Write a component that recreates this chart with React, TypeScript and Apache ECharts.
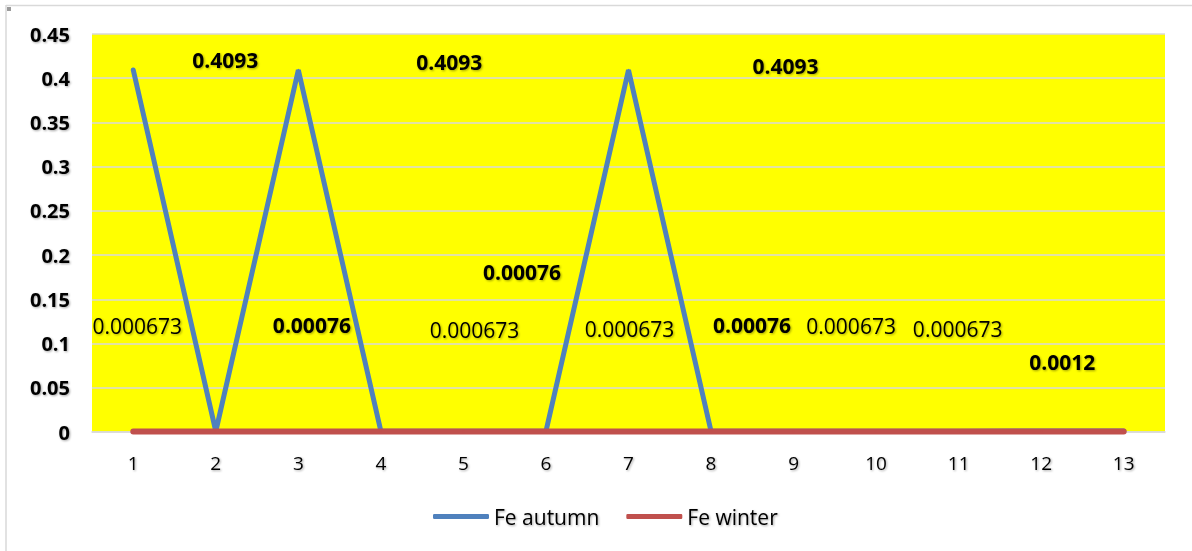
import React, { useEffect, useRef } from "react";
import * as echarts from "echarts";

// Sample numbers along the x axis
const categories = ["1", "2", "3", "4", "5", "6", "7", "8", "9", "10", "11", "12", "13"];

// Fe concentration per sample
const feAutumn = [0.4093, 0.00076, 0.4093, 0.00076, 0.00076, 0.00076, 0.4093, 0.00076, 0.00076, 0.00076, 0.00076, 0.0012, 0.0012];
const feWinter = [0.000673, 0.000673, 0.000673, 0.000673, 0.000673, 0.000673, 0.000673, 0.000673, 0.000673, 0.000673, 0.000673, 0.000673, 0.000673];

// Which points carry a value label, and where the label sits relative to its point [dx, dy]
const autumnLabelOffsets: Record<number, [number, number]> = {
  0: [92, -10],
  2: [151, -8],
  3: [-69, -106],
  5: [-24, -159],
  6: [157, -4],
  7: [41, -106],
  11: [21, -69],
};
const winterLabelOffsets: Record<number, [number, number]> = {
  0: [4, -105],
  4: [11, -101],
  6: [1, -102],
  9: [-25, -105],
  10: [-1, -102],
};

const FONT = "'Open Sans', 'Noto Sans', sans-serif";
const shadow = { textShadowColor: "rgba(0,0,0,0.35)", textShadowBlur: 2, textShadowOffsetX: 1, textShadowOffsetY: 1 };

function buildData(values: number[], offsets: Record<number, [number, number]>, bold: boolean) {
  return values.map((v, i) => {
    const off = offsets[i];
    return {
      value: v,
      label: off
        ? {
            show: true,
            position: "inside",
            offset: off,
            formatter: String(v),
            color: "#000",
            fontSize: 21,
            fontWeight: bold ? "bold" : "normal",
            fontFamily: FONT,
            ...shadow,
          }
        : { show: false },
    };
  });
}

export default function App() {
  const ref = useRef<HTMLDivElement>(null);

  useEffect(() => {
    document.body.style.margin = "0";
    if (!ref.current) return;
    const chart = echarts.init(ref.current, null, { renderer: "svg" });
    chart.setOption({
      animation: false,
      backgroundColor: "#ffffff",
      textStyle: { fontFamily: FONT },
      graphic: [
        { type: "line", shape: { x1: 6, y1: 5.5, x2: 1192, y2: 5.5 }, style: { stroke: "#d9d9d9", lineWidth: 1.5 } },
        { type: "line", shape: { x1: 6, y1: 5, x2: 6, y2: 551 }, style: { stroke: "#d9d9d9", lineWidth: 1.5 } },
        { type: "rect", shape: { x: 7, y: 7, width: 4, height: 4 }, style: { fill: "#9a9a9a" } },
      ],
      grid: {
        left: 92,
        right: 27,
        top: 34,
        bottom: 119,
        show: true,
        backgroundColor: "#ffff00",
        borderWidth: 0,
      },
      legend: {
        bottom: 19,
        left: 428,
        itemWidth: 56,
        itemHeight: 5,
        itemGap: 27,
        icon: "roundRect",
        textStyle: { fontSize: 21, color: "#000", fontFamily: FONT, ...shadow },
        data: ["Fe autumn", "Fe winter"],
      },
      xAxis: {
        type: "category",
        data: categories,
        boundaryGap: true,
        axisLine: { show: true, lineStyle: { color: "#d9d9d9", width: 1.5 } },
        axisTick: { show: false },
        axisLabel: { color: "#000", fontSize: 19, margin: 21, fontFamily: FONT, ...shadow },
      },
      yAxis: {
        type: "value",
        min: 0,
        max: 0.45,
        interval: 0.05,
        axisLine: { show: false },
        axisTick: { show: false },
        splitLine: { lineStyle: { color: "#d9d9d9", width: 1.5 } },
        axisLabel: {
          color: "#000",
          fontSize: 20,
          fontWeight: "bold",
          margin: 22,
          fontFamily: FONT,
          formatter: (v: number) => String(Math.round(v * 100) / 100),
          ...shadow,
        },
      },
      series: [
        {
          name: "Fe autumn",
          type: "line",
          data: buildData(feAutumn, autumnLabelOffsets, true),
          symbol: "circle",
          symbolSize: 2,
          lineStyle: { color: "#4f81bd", width: 5, cap: "round", join: "miter" },
          itemStyle: { color: "#4f81bd" },
          z: 2,
        },
        {
          name: "Fe winter",
          type: "line",
          data: buildData(feWinter, winterLabelOffsets, false),
          symbol: "circle",
          symbolSize: 2,
          lineStyle: { color: "#c0504d", width: 6, cap: "round" },
          itemStyle: { color: "#c0504d" },
          z: 3,
        },
      ],
    });
    return () => chart.dispose();
  }, []);

  return <div ref={ref} style={{ width: 1192, height: 551 }} />;
}
